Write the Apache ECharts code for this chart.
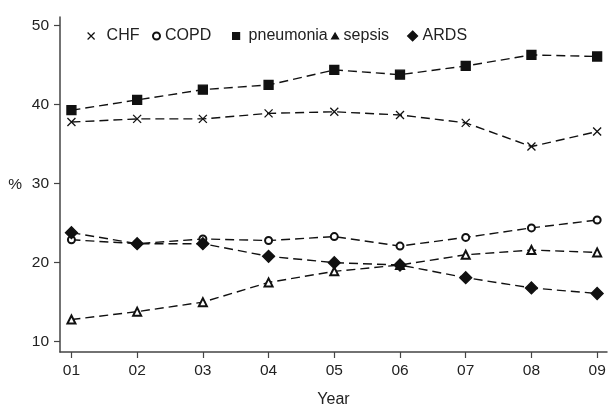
<!DOCTYPE html>
<html><head><meta charset="utf-8">
<script src="https://cdn.jsdelivr.net/npm/echarts@6/dist/echarts.min.js"></script>
<style>html,body{margin:0;padding:0;background:#fff}#c{width:614px;height:413px}</style>
</head><body><div id="c"></div>
<script>
var years = [1, 2, 3, 4, 5, 6, 7, 8, 9];
var yearLabels = ['01','02','03','04','05','06','07','08','09'];
var yTicks = [10, 20, 30, 40, 50];
var CHF = [37.8, 38.2, 38.2, 38.9, 39.1, 38.7, 37.7, 34.7, 36.6];
var COPD = [22.9, 22.4, 23.0, 22.8, 23.3, 22.1, 23.2, 24.4, 25.4];
var pneumonia = [39.3, 40.6, 41.9, 42.5, 44.4, 43.8, 44.9, 46.3, 46.1];
var sepsis = [12.8, 13.8, 15.0, 17.5, 18.9, 19.7, 21.0, 21.6, 21.3];
var ARDS = [23.8, 22.4, 22.4, 20.8, 20.0, 19.7, 18.1, 16.8, 16.1];
var names = ['CHF', 'COPD', 'pneumonia', 'sepsis', 'ARDS'];

var FONT = 'Liberation Sans, Arial, sans-serif';
var xPath = 'path://M0,0L10,10M10,0L0,10';
var symbols = [xPath, 'emptyCircle', 'rect', 'emptyTriangle', 'diamond'];
var sizes = [8, 7, 9, 8, 12];
var legendIcons = [xPath, 'emptyCircle', 'rect', 'triangle', 'diamond'];
var legendLeft = [82, 147, 227, 326, 402];
var legendSize = [[7, 7], [7, 7], [7, 7], [7, 6], [10, 10]];
var legendPad = [7, 0, 4, 0, 0];
var datas = [CHF, COPD, pneumonia, sepsis, ARDS];

var series = names.map(function (n, i) {
  return {
    name: n, type: 'line', symbol: symbols[i], symbolSize: sizes[i],
    showAllSymbol: true,
    data: years.map(function (x, j) { return [x, datas[i][j]]; }),
    lineStyle: { color: '#111', width: 1.4, type: [9, 5] },
    itemStyle: { color: '#111', borderColor: '#111', borderWidth: 1.3 },
    z: 2 + i
  };
});

var legends = names.map(function (n, i) {
  return {
    left: legendLeft[i], top: 23, itemWidth: legendSize[i][0], itemHeight: legendSize[i][1],
    selectedMode: false,
    textStyle: { fontSize: 16, color: '#222', fontFamily: FONT, padding: [0, 0, 0, legendPad[i]] },
    data: [{ name: n, icon: legendIcons[i],
      itemStyle: { color: '#111', borderColor: '#111', borderWidth: 1.2 } }]
  };
});

var chart = echarts.init(document.getElementById('c'), null, { renderer: 'canvas' });
chart.setOption({
  animation: false,
  backgroundColor: '#fff',
  textStyle: { fontFamily: FONT },
  grid: { left: 60, right: 7, top: 17, bottom: 56 },
  legend: legends,
  xAxis: {
    type: 'value', min: 0.826, max: 9.15,
    name: 'Year', nameLocation: 'middle', nameGap: 40,
    nameTextStyle: { fontSize: 16, color: '#222', fontFamily: FONT },
    axisLine: { show: true, lineStyle: { color: '#444', width: 1.5 } },
    axisTick: { show: true, length: 6, customValues: years, lineStyle: { color: '#444', width: 1.2 } },
    axisLabel: { customValues: years, fontSize: 15.5, color: '#222', margin: 11, fontFamily: FONT,
      formatter: function (v) { return yearLabels[Math.round(v) - 1]; } },
    splitLine: { show: false }
  },
  yAxis: {
    type: 'value', min: 8.69, max: 51.1,
    name: '%', nameLocation: 'middle', nameRotate: 0, nameGap: 38,
    nameTextStyle: { fontSize: 15.5, color: '#222', fontFamily: FONT },
    axisLine: { show: true, lineStyle: { color: '#444', width: 1.5 } },
    axisTick: { show: true, length: 6, customValues: yTicks, lineStyle: { color: '#444', width: 1.2 } },
    axisLabel: { customValues: yTicks, fontSize: 15.5, color: '#222', margin: 11, fontFamily: FONT },
    splitLine: { show: false }
  },
  series: series
});
</script></body></html>
